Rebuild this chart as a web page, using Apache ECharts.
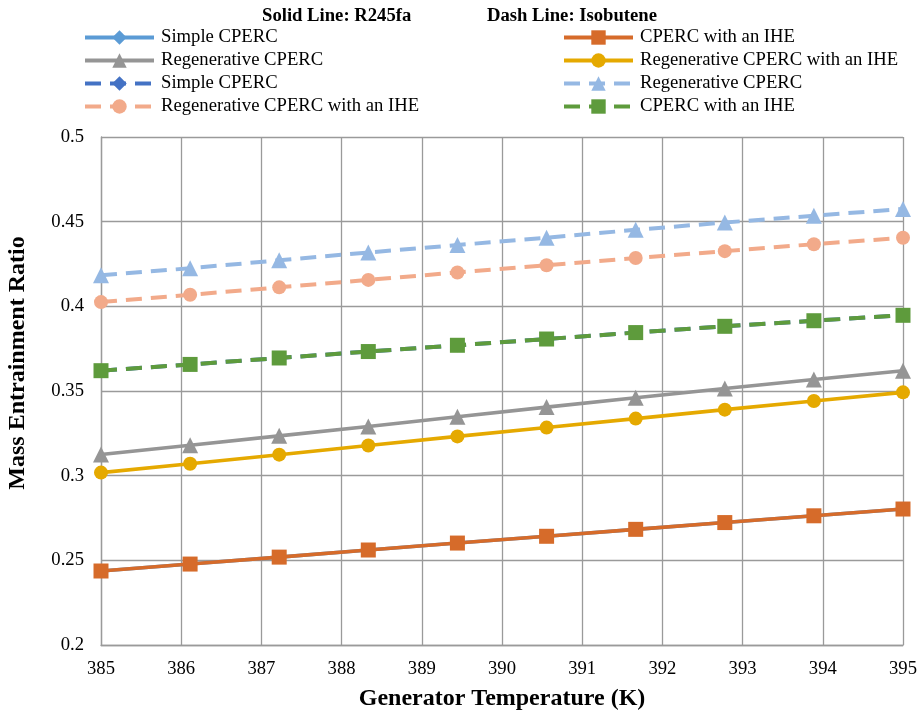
<!DOCTYPE html>
<html>
<head>
<meta charset="utf-8">
<script src="https://cdn.jsdelivr.net/npm/echarts@6/dist/echarts.min.js"></script>
<style>html,body{margin:0;padding:0;background:#fff}#c{width:919px;height:713px}</style>
</head>
<body>
<div id="c"></div>
<script>
// Generator temperature (K): 10 evenly spaced points from 385 to 395
const temps = [385, 386.111, 387.222, 388.333, 389.444, 390.556, 391.667, 392.778, 393.889, 395];
const xTicks = [385, 386, 387, 388, 389, 390, 391, 392, 393, 394, 395];
const yTicks = [0.2, 0.25, 0.3, 0.35, 0.4, 0.45, 0.5];

// R245fa (solid lines)
const r245Simple = [0.2437, 0.2478, 0.2519, 0.2561, 0.2602, 0.2642, 0.2683, 0.2723, 0.2763, 0.2803];
const r245Regen = [0.3125, 0.318, 0.3235, 0.329, 0.3348, 0.3405, 0.346, 0.3515, 0.3568, 0.362];
const r245IHE = [0.2437, 0.2478, 0.2519, 0.2561, 0.2602, 0.2642, 0.2683, 0.2723, 0.2763, 0.2803];
const r245RegenIHE = [0.3018, 0.307, 0.3124, 0.3178, 0.3232, 0.3284, 0.3337, 0.339, 0.3441, 0.3492];

// Isobutene (dashed lines)
const isoSimple = [0.362, 0.3657, 0.3695, 0.3733, 0.377, 0.3807, 0.3845, 0.3882, 0.3915, 0.3947];
const isoRegen = [0.4183, 0.4225, 0.4272, 0.4318, 0.4362, 0.4405, 0.4452, 0.4495, 0.4535, 0.4575];
const isoRegenIHE = [0.4025, 0.4068, 0.4112, 0.4156, 0.42, 0.4243, 0.4285, 0.4326, 0.4367, 0.4405];
const isoIHE = [0.362, 0.3657, 0.3695, 0.3733, 0.377, 0.3807, 0.3845, 0.3882, 0.3915, 0.3947];

const FONT = '"Liberation Serif", "Times New Roman", serif';
const pair = (arr) => temps.map((t, i) => [t, arr[i]]);

function mk(name, data, color, symbol, size, dashed, z) {
  return {
    name: name, type: 'line', data: pair(data),
    symbol: symbol, symbolSize: size, showSymbol: true,
    z: z,
    itemStyle: { color: color },
    lineStyle: { color: color, width: dashed ? 4 : 3.6, type: dashed ? [16, 9] : 'solid' },
    emphasis: { disabled: true },
    animation: false
  };
}

const series = [
  mk('Simple CPERC', r245Simple, '#5B9BD5', 'diamond', 14, false, 2),
  mk('Regenerative CPERC', r245Regen, '#959595', 'triangle', 16, false, 3),
  mk('Simple CPERC ', isoSimple, '#4472C4', 'diamond', 14, true, 4),
  mk('Regenerative CPERC with an IHE ', isoRegenIHE, '#F2AA8A', 'circle', 14, true, 5),
  mk('CPERC with an IHE', r245IHE, '#D66B2A', 'rect', 15, false, 6),
  mk('Regenerative CPERC with an IHE', r245RegenIHE, '#E5A900', 'circle', 14, false, 7),
  mk('Regenerative CPERC ', isoRegen, '#95B8E3', 'triangle', 16, true, 8),
  mk('CPERC with an IHE ', isoIHE, '#5E9B3C', 'rect', 15, true, 9)
];

const legendText = { fontFamily: FONT, fontSize: 18.67, color: '#000', padding: [0, 0, 0, 2] };
const legendLine = { width: 4 };
const chart = echarts.init(document.getElementById('c'), null, { renderer: 'canvas' });
chart.setOption({
  animation: false,
  backgroundColor: '#fff',
  title: [
    { text: 'Solid Line: R245fa', left: 257, top: 2, textStyle: { fontFamily: FONT, fontSize: 18.67, fontWeight: 'bold', color: '#000' } },
    { text: 'Dash Line: Isobutene', left: 482, top: 2, textStyle: { fontFamily: FONT, fontSize: 18.67, fontWeight: 'bold', color: '#000' } }
  ],
  legend: [
    { orient: 'vertical', left: 78, top: 23, itemWidth: 69, itemHeight: 18, itemGap: 4,
      selectedMode: false, textStyle: legendText, lineStyle: legendLine,
      formatter: n => n.trim(),
      data: ['Simple CPERC', 'Regenerative CPERC', 'Simple CPERC ', 'Regenerative CPERC with an IHE '] },
    { orient: 'vertical', left: 557, top: 23, itemWidth: 69, itemHeight: 18, itemGap: 4,
      selectedMode: false, textStyle: legendText, lineStyle: legendLine,
      formatter: n => n.trim(),
      data: ['CPERC with an IHE', 'Regenerative CPERC with an IHE', 'Regenerative CPERC ', 'CPERC with an IHE '] }
  ],
  graphic: [
    { type: 'text', x: 18, y: 363, rotation: Math.PI / 2, silent: true,
      style: { text: 'Mass Entrainment Ratio', font: 'bold 24px ' + FONT, fill: '#000',
        textAlign: 'center', textVerticalAlign: 'middle' } }
  ],
  grid: { left: 101, right: 16, top: 137, bottom: 68, containLabel: false, outerBoundsMode: 'none' },
  xAxis: {
    type: 'value', min: 385, max: 395, interval: 1,
    name: 'Generator Temperature (K)', nameLocation: 'middle', nameGap: 42,
    nameTextStyle: { fontFamily: FONT, fontSize: 24, fontWeight: 'bold', color: '#000' },
    axisLine: { show: true, lineStyle: { color: '#9A9A9A', width: 1.3 } },
    axisTick: { show: false },
    axisLabel: { fontFamily: FONT, fontSize: 18.67, color: '#000', margin: 15,
      formatter: v => xTicks.includes(Math.round(v)) ? String(Math.round(v)) : '' },
    splitLine: { show: true, lineStyle: { color: '#9A9A9A', width: 1.3 } }
  },
  yAxis: {
    type: 'value', min: 0.2, max: 0.5, interval: 0.05,
    axisLine: { show: true, lineStyle: { color: '#9A9A9A', width: 1.3 } },
    axisTick: { show: false },
    axisLabel: { fontFamily: FONT, fontSize: 18.67, color: '#000', margin: 17,
      formatter: v => String(+v.toFixed(2)) },
    splitLine: { show: true, lineStyle: { color: '#9A9A9A', width: 1.3 } }
  },
  series: series
});
</script>
</body>
</html>
